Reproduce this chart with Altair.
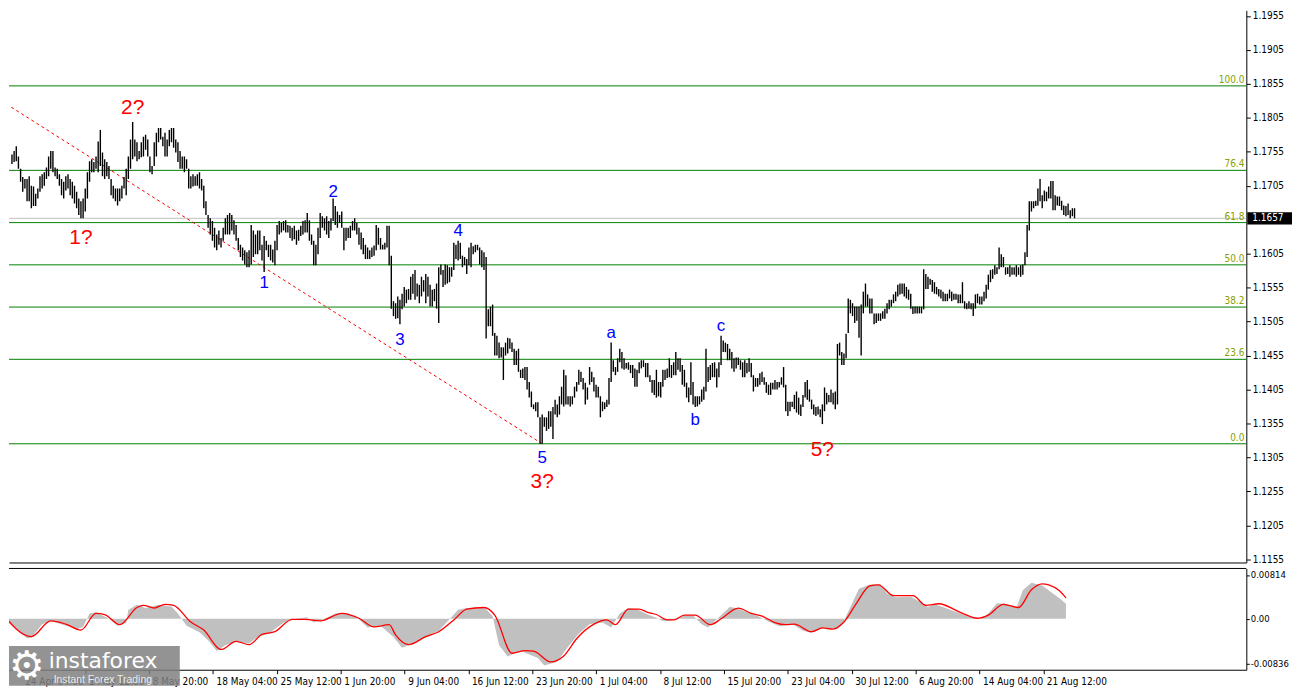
import altair as alt
import pandas as pd

# ---------------- data (prices in pips above 1.1000) ----------------
HIGH_PIPS = [
    751,756,763,748,730,718,715,715,719,705, 704,693,701,719,722,725,732,748,756,756,
    732,730,722,715,711,719,722,715,711,705, 696,686,682,686,701,725,741,744,740,748,
    770,787,754,744,740,734,715,705,701,701, 701,705,718,730,748,773,799,773,769,756,
    769,777,780,773,748,734,769,783,790,790, 777,783,773,787,790,790,773,769,756,748,
    748,744,730,719,722,719,722,725,715,705, 682,662,657,653,643,633,639,628,643,657,
    662,665,662,654,647,628,618,614,610,607, 610,647,639,633,639,639,618,631,624,618,
    618,611,624,647,653,650,653,654,647,646, 643,646,639,640,646,653,654,665,654,633,
    624,618,643,665,660,657,660,653,657,686, 675,667,662,667,643,643,643,646,653,657,
    650,643,636,628,618,614,610,614,617,647, 643,628,618,621,646,646,602,535,532,542,
    537,546,556,552,553,571,575,581,561,559, 571,566,575,571,559,552,553,561,585,589,
    581,589,588,585,585,621,618,624,621,602, 600,597,614,621,616,618,618,614,610,607,
    600,523,527,530,488,484,474,467,467,474, 481,480,474,465,462,465,434,436,438,438,
    416,402,383,386,386,364,368,364,364,373, 373,379,390,383,395,409,434,426,395,395,
    395,409,416,434,431,422,415,408,438,431, 423,412,409,395,387,386,390,422,474,448,
    438,451,465,460,451,444,445,441,441,436, 434,445,448,448,444,444,426,419,419,434,
    416,416,434,434,436,451,441,445,460,451, 451,441,434,415,408,445,416,395,395,395,
    405,409,465,438,441,444,445,436,445,484, 477,474,472,465,460,451,452,452,448,445,
    448,444,451,444,426,422,422,429,431,423, 416,412,415,415,419,416,416,423,438,412,
    387,387,387,397,402,393,383,397,416,419, 405,390,383,379,380,376,383,408,400,397,
    405,400,402,472,474,460,458,487,539,537, 532,527,527,527,530,549,561,545,539,539,
    517,517,517,517,520,524,532,537,537,545, 549,559,561,561,561,556,552,546,527,527,
    527,527,527,582,575,571,568,566,563,556, 553,552,549,546,546,552,549,546,546,545,
    545,563,535,532,535,532,532,545,546,542, 542,549,559,574,581,582,588,585,614,604,
    600,585,585,588,585,585,588,585,588,589, 607,647,682,682,682,683,701,715,691,698,
    696,704,712,712,691,689,689,683,676,675, 679,669,672,672,
]
LOW_PIPS = [
    737,740,741,730,711,696,701,682,682,672, 675,675,686,696,701,705,715,719,730,725,
    719,715,705,691,686,698,701,691,686,679, 672,662,657,657,667,686,711,725,725,730,
    725,734,719,715,719,715,691,686,682,676, 682,686,701,691,715,730,744,748,741,744,
    747,748,758,748,725,722,734,748,769,773, 763,748,748,763,769,761,754,740,730,730,
    725,730,701,701,704,705,705,701,698,672, 662,643,633,624,614,610,618,614,624,633,
    633,633,639,633,624,610,600,595,589,585, 585,589,600,604,604,610,595,578,610,600,
    595,592,588,610,633,636,639,636,636,628, 624,626,618,624,631,633,636,636,624,618,
    588,588,604,628,643,639,633,628,639,653, 647,643,650,643,610,624,628,628,639,639,
    633,618,611,604,597,597,597,600,602,610, 618,611,611,611,614,588,524,513,509,510,
    501,523,527,532,537,537,546,537,542,532, 542,549,532,542,527,527,535,524,503,574,
    556,559,561,563,571,581,597,595,597,585, 588,575,588,585,604,607,610,589,585,581,
    480,498,498,484,455,455,451,452,419,455, 458,465,460,441,441,431,422,422,419,405,
    393,379,376,373,364,325,325,350,344,347, 350,332,368,364,368,383,380,383,383,380,
    383,393,402,412,416,405,383,390,412,416, 402,393,393,364,373,376,379,383,416,431,
    426,431,445,436,434,436,434,429,422,409, 409,429,436,438,423,423,416,400,397,393,
    395,393,409,419,422,423,422,426,426,434, 431,412,409,393,386,397,383,379,380,383,
    387,390,402,416,419,423,423,408,423,441, 460,460,448,448,436,431,436,441,434,423,
    423,429,431,423,402,409,409,412,416,412, 400,397,397,405,405,405,408,412,408,373,
    366,373,379,376,371,368,366,379,393,390, 387,376,368,366,368,364,354,373,383,386,
    386,383,376,383,455,441,441,451,488,517, 513,503,506,481,455,517,527,527,517,517,
    501,503,506,506,509,509,517,523,527,532, 535,542,545,546,542,539,537,524,516,517,
    517,517,517,523,553,553,559,549,546,545, 542,539,535,535,535,539,535,537,537,532,
    532,532,524,523,524,523,513,524,532,530, 530,535,539,552,563,568,574,575,582,585,
    585,574,575,571,574,574,571,574,571,574, 588,600,639,667,672,675,676,682,672,682,
    682,686,686,669,669,676,675,669,662,660, 662,657,660,657,
]

FIB_LOW = 1.1325
FIB_HIGH = 1.1852
FIB_PCT = [0.0, 23.6, 38.2, 50.0, 61.8, 76.4, 100.0]
FIB_LABELS = ["0.0", "23.6", "38.2", "50.0", "61.8", "76.4", "100.0"]
LAST_PRICE = 1.1657

PRICE_TICKS = [1.1155, 1.1205, 1.1255, 1.1305, 1.1355, 1.1405, 1.1455, 1.1505,
               1.1555, 1.1605, 1.1705, 1.1755, 1.1805, 1.1855, 1.1905, 1.1955]

DATE_LABELS = ["24 Apr 04:00", "1 May 12:00", "8 May 20:00", "18 May 04:00", "25 May 12:00",
               "1 Jun 20:00", "9 Jun 04:00", "16 Jun 12:00", "23 Jun 20:00", "1 Jul 04:00",
               "8 Jul 12:00", "15 Jul 20:00", "23 Jul 04:00", "30 Jul 12:00", "6 Aug 20:00",
               "14 Aug 04:00", "21 Aug 12:00"]
DATE_BARS = [5.5, 35.1, 64.7, 94.3, 124.0, 153.6, 183.2, 212.8, 242.5, 272.1,
             301.7, 331.4, 361.0, 390.6, 420.2, 449.9, 479.5]

TREND_BARS = [-4, 247]
TREND_PRICES = [1.1830, 1.1325]

WAVE_TEXT = ["1?", "2?", "1", "2", "3", "4", "5", "3?", "a", "b", "c", "5?"]
WAVE_BAR = [33, 57, 118, 150, 181, 208, 247, 247, 279, 318, 330, 377]
WAVE_PRICE = [1.16284, 1.1819, 1.1562, 1.1696, 1.1478, 1.16385, 1.13035, 1.12689,
              1.14884, 1.1360, 1.14985, 1.13165]
WAVE_IS_RED = [1, 1, 0, 0, 0, 0, 0, 1, 0, 0, 0, 1]

# oscillator (units of 0.0001)
SIGNAL_BARS = [-4, 10, 19, 26, 33, 40, 44, 51, 59, 62, 67, 72, 76, 84, 90, 98, 105, 111, 117, 123,
               131, 137, 144, 154, 162, 169, 176, 179, 185, 193, 199, 206, 212, 220, 225, 233, 239, 243, 251, 257,
               263, 271, 277, 281, 287, 292, 296, 300, 305, 308, 313, 318, 325, 330, 338, 344, 349, 355, 360, 364,
               372, 377, 382, 387, 393, 399, 403, 410, 419, 425, 431, 441, 449, 454, 461, 468, 474, 479, 482, 487, 490]
SIGNAL_VALUES = [12, -33, -4, -10, -21, 10, 8, -11, 21, 25, 20, 27, 25, -6, -21, -57, -42, -48, -29, -24,
                 -1, -1, -4, 10, 1, -15, -11, -30, -48, -33, -24, -2, 18, 21, 7, -64, -59, -60, -80, -69,
                 -37, -10, -2, -11, 18, 18, 12, 8, -2, -2, 7, 7, -11, 0, 20, 10, 5, -7, -11, -10,
                 -24, -17, -19, -6, 30, 61, 63, 43, 43, 25, 28, 12, 1, 7, 27, 21, 54, 65, 63, 52, 39]
HIST_BARS = [-4, -2, 8, 10, 15, 19, 31, 34, 37, 40, 46, 50, 54, 55, 59, 63, 69, 75, 78, 82,
             88, 92, 96, 100, 105, 111, 115, 120, 126, 130, 138, 141, 147, 151, 157, 162, 166, 172, 178, 182,
             187, 193, 199, 204, 208, 212, 220, 224, 227, 231, 237, 245, 248, 254, 259, 264, 269, 275, 279, 283,
             287, 291, 296, 300, 303, 307, 313, 317, 321, 324, 329, 334, 337, 342, 347, 353, 357, 363, 368, 372,
             378, 384, 387, 390, 394, 399, 404, 407, 411, 418, 422, 426, 429, 433, 441, 447, 450, 454, 458, 462,
             467, 470, 474, 479, 484, 487, 490]
HIST_VALUES = [0, -3, -36, -35, -10, -4, -19, -15, 10, 12, 0, -13, -8, 17, 26, 20, 26, 23, 10, -13,
               -25, -40, -60, -49, -42, -46, -34, -28, -10, -1, 3, -7, 2, 10, 10, -1, -16, -13, -34, -54,
               -46, -34, -22, -1, 17, 20, 22, 5, -49, -70, -60, -73, -87, -80, -52, -28, -10, -7, -16, 10,
               20, 18, 8, 2, -4, -3, 6, 6, -10, -16, 3, 22, 20, 12, 5, -7, -14, -10, -22, -26,
               -16, -19, -4, 22, 56, 64, 64, 47, 40, 41, 32, 22, 27, 22, 10, 2, 0, 10, 29, 28,
               20, 53, 67, 62, 47, 38, 28]

# ---------------- layout ----------------
W, H1, H2 = 1246, 556, 102
XDOM = [-0.38, 573.7]
YDOM = [1.11502, 1.19632]
ODOM = [-0.00947, 0.00936]
FONT = "Tahoma, 'DejaVu Sans Condensed', 'DejaVu Sans', sans-serif"
LBL = "Liberation Sans, Arial, sans-serif"

xs = alt.Scale(domain=XDOM, nice=False, zero=False)
ys = alt.Scale(domain=YDOM, nice=False, zero=False)
oys = alt.Scale(domain=ODOM, nice=False, zero=False)

X_MAIN_AXIS = alt.Axis(labels=False, ticks=False, grid=False, domain=True,
                       domainColor="black", title=None)
Y_MAIN_AXIS = alt.Axis(orient="right", values=PRICE_TICKS, format=".4f", grid=False,
                       domainColor="black", tickColor="black", tickSize=4, labelPadding=2,
                       labelFont=FONT, labelFontSize=10, labelColor="black", title=None,
                       labelOverlap=False, labelFlush=False)

label_expr = ("[" + ",".join("'" + s + "'" for s in DATE_LABELS) + "][indexof(["
              + ",".join(str(b) for b in DATE_BARS) + "], datum.value)]")
X_OSC_AXIS = alt.Axis(values=DATE_BARS, labelExpr=label_expr, labelAlign="left", labelOffset=3,
                      labelBaseline="top", labelPadding=3, tickSize=4, tickColor="black",
                      domainColor="black", grid=False, labelFont=FONT, labelFontSize=10,
                      labelColor="black", labelOverlap=False, labelFlush=False, title=None)
Y_OSC_AXIS = alt.Axis(orient="right", values=[-0.00836, 0.0, 0.00814], grid=False,
                      labelExpr="datum.value > 0 ? '0.00814' : (datum.value < 0 ? '-0.00836' : '0.00')",
                      tickSize=3, labelPadding=1, tickColor="black", domainColor="black",
                      labelFont=FONT, labelFontSize=9.5, labelColor="black", title=None,
                      labelOverlap=False, labelFlush=False)

n = min(len(HIGH_PIPS), len(LOW_PIPS))
bars_df = pd.DataFrame({
    "bar": list(range(1, n + 1)),
    "high": [1.1 + h / 10000 for h in HIGH_PIPS[:n]],
    "low": [1.1 + l / 10000 for l in LOW_PIPS[:n]],
})
fib_df = pd.DataFrame({
    "price": [FIB_LOW + p / 100 * (FIB_HIGH - FIB_LOW) for p in FIB_PCT],
    "label": FIB_LABELS,
})
last_df = pd.DataFrame({"price": [LAST_PRICE]})
trend_df = pd.DataFrame({"bar": TREND_BARS, "price": TREND_PRICES})
wave_df = pd.DataFrame({
    "bar": WAVE_BAR, "price": WAVE_PRICE, "text": WAVE_TEXT,
    "col": ["#ff0000" if r else "#0000ff" for r in WAVE_IS_RED],
    "fs": [21 if r else 17 for r in WAVE_IS_RED],
})

X = alt.X("bar:Q", scale=xs, axis=X_MAIN_AXIS)

bars = alt.Chart(bars_df).mark_rule(color="black", strokeWidth=1.4, clip=True).encode(
    x=X, y=alt.Y("low:Q", scale=ys, axis=Y_MAIN_AXIS), y2="high:Q")

fib_lines = alt.Chart(fib_df).mark_rule(color="#008000", strokeWidth=1).encode(
    y=alt.Y("price:Q", scale=ys, axis=Y_MAIN_AXIS))
fib_text = alt.Chart(fib_df).mark_text(align="right", baseline="bottom", dy=-1, fontSize=10,
                                       color="#86a000", font=FONT).encode(
    x=alt.value(W - 2), y=alt.Y("price:Q", scale=ys, axis=Y_MAIN_AXIS), text="label:N")

last_line = alt.Chart(last_df).mark_rule(color="#c0c0c0", strokeWidth=1).encode(
    y=alt.Y("price:Q", scale=ys, axis=Y_MAIN_AXIS))
last_box = alt.Chart(last_df).transform_calculate(
    lo="datum.price - 0.0009", hi="datum.price + 0.0009"
).mark_rect(color="black").encode(
    x=alt.value(W + 1), x2=alt.value(W + 46),
    y=alt.Y("lo:Q", scale=ys, axis=Y_MAIN_AXIS), y2="hi:Q")
last_text = alt.Chart(last_df).mark_text(align="left", baseline="middle", color="white",
                                         fontSize=10, font=FONT).encode(
    x=alt.value(W + 6), y=alt.Y("price:Q", scale=ys, axis=Y_MAIN_AXIS),
    text=alt.Text("price:Q", format=".4f"))

trend = alt.Chart(trend_df).mark_line(color="#ff0000", strokeWidth=1, strokeDash=[3, 3],
                                      clip=True).encode(
    x=X, y=alt.Y("price:Q", scale=ys, axis=Y_MAIN_AXIS))

waves = alt.Chart(wave_df).mark_text(align="center", baseline="middle", font=LBL).encode(
    x=X, y=alt.Y("price:Q", scale=ys, axis=Y_MAIN_AXIS), text="text:N",
    color=alt.Color("col:N", scale=None), size=alt.Size("fs:Q", scale=None))

main = alt.layer(fib_lines, last_line, trend, bars, waves, fib_text, last_box, last_text).properties(
    width=W, height=H1)

# ---------------- oscillator ----------------
hist_df = pd.DataFrame({"bar": HIST_BARS, "val": [v / 10000 for v in HIST_VALUES]})
hist_df["zero"] = 0.0
sig_df = pd.DataFrame({"bar": SIGNAL_BARS, "val": [v / 10000 for v in SIGNAL_VALUES]})
top_df = pd.DataFrame({"v": [ODOM[1]]})
one_df = pd.DataFrame({"k": [1]})

XO = alt.X("bar:Q", scale=xs, axis=X_OSC_AXIS)
YO = alt.Y("val:Q", scale=oys, axis=Y_OSC_AXIS)

hist = alt.Chart(hist_df).mark_area(color="#c0c0c0", clip=True).encode(x=XO, y=YO, y2="zero:Q")
sig = alt.Chart(sig_df).mark_line(color="#ff0000", strokeWidth=1.3, interpolate="monotone",
                                  clip=True).encode(x=XO, y=YO)
top_rule = alt.Chart(top_df).mark_rule(color="black", strokeWidth=1).encode(
    y=alt.Y("v:Q", scale=oys, axis=Y_OSC_AXIS))

logo_box = alt.Chart(one_df).mark_rect(color="#808080", opacity=0.85).encode(
    x=alt.value(0), x2=alt.value(172), y=alt.value(H2 - 24), y2=alt.value(H2 + 16))
logo_gear = alt.Chart(one_df).mark_text(text="\u2699", fontSize=40, color="white",
                                        font="DejaVu Sans", align="center",
                                        baseline="middle").encode(
    x=alt.value(18), y=alt.value(H2 - 3))
logo_name = alt.Chart(one_df).mark_text(text="instaforex", fontSize=22, color="white",
                                        font="DejaVu Sans", align="left",
                                        baseline="alphabetic").encode(
    x=alt.value(40), y=alt.value(H2 - 2))
logo_sub = alt.Chart(one_df).mark_text(text="Instant Forex Trading", fontSize=10.5,
                                       color="#ececec", font=LBL, align="left",
                                       baseline="alphabetic").encode(
    x=alt.value(45), y=alt.value(H2 + 13))

osc = alt.layer(hist, sig, top_rule, logo_box, logo_gear, logo_name, logo_sub).properties(
    width=W, height=H2)

chart = alt.vconcat(main, osc, spacing=3).properties(
    padding={"left": 0, "top": 0, "right": 0, "bottom": 0},
    background="white",
).configure_view(stroke=None)

chart.save("out.html", embed_options={"renderer": "svg", "actions": False})
